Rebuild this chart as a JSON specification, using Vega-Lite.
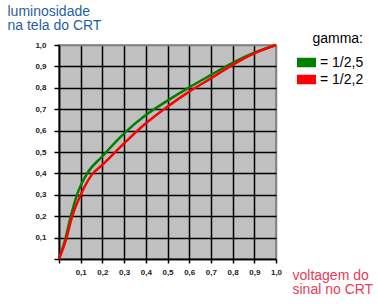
{
  "$schema": "https://vega.github.io/schema/vega-lite/v6.json",
  "width": 217,
  "height": 214,
  "autosize": {"type": "none"},
  "padding": {"left": 59, "top": 45, "right": 102, "bottom": 45},
  "background": "white",
  "config": {
    "view": {"fill": "#c0c0c0", "stroke": "#808080", "strokeWidth": 1.5},
    "font": "Liberation Sans"
  },
  "data": {
    "values": [
      {"gamma": "= 1/2,5", "sinal": 0, "luminosidade": 0},
      {"gamma": "= 1/2,5", "sinal": 0.031, "luminosidade": 0.1},
      {"gamma": "= 1/2,5", "sinal": 0.054, "luminosidade": 0.2},
      {"gamma": "= 1/2,5", "sinal": 0.083, "luminosidade": 0.3},
      {"gamma": "= 1/2,5", "sinal": 0.13, "luminosidade": 0.4},
      {"gamma": "= 1/2,5", "sinal": 0.2, "luminosidade": 0.48},
      {"gamma": "= 1/2,5", "sinal": 0.3, "luminosidade": 0.587},
      {"gamma": "= 1/2,5", "sinal": 0.4, "luminosidade": 0.673},
      {"gamma": "= 1/2,5", "sinal": 0.5, "luminosidade": 0.74},
      {"gamma": "= 1/2,5", "sinal": 0.6, "luminosidade": 0.802},
      {"gamma": "= 1/2,5", "sinal": 0.7, "luminosidade": 0.86},
      {"gamma": "= 1/2,5", "sinal": 0.8, "luminosidade": 0.917},
      {"gamma": "= 1/2,5", "sinal": 0.9, "luminosidade": 0.964},
      {"gamma": "= 1/2,5", "sinal": 1.0, "luminosidade": 1.0},
      {"gamma": "= 1/2,2", "sinal": 0, "luminosidade": 0},
      {"gamma": "= 1/2,2", "sinal": 0.035, "luminosidade": 0.1},
      {"gamma": "= 1/2,2", "sinal": 0.061, "luminosidade": 0.2},
      {"gamma": "= 1/2,2", "sinal": 0.1, "luminosidade": 0.3},
      {"gamma": "= 1/2,2", "sinal": 0.15, "luminosidade": 0.392},
      {"gamma": "= 1/2,2", "sinal": 0.2, "luminosidade": 0.44},
      {"gamma": "= 1/2,2", "sinal": 0.3, "luminosidade": 0.54},
      {"gamma": "= 1/2,2", "sinal": 0.4, "luminosidade": 0.634},
      {"gamma": "= 1/2,2", "sinal": 0.5, "luminosidade": 0.712},
      {"gamma": "= 1/2,2", "sinal": 0.6, "luminosidade": 0.782},
      {"gamma": "= 1/2,2", "sinal": 0.7, "luminosidade": 0.844},
      {"gamma": "= 1/2,2", "sinal": 0.8, "luminosidade": 0.907},
      {"gamma": "= 1/2,2", "sinal": 0.9, "luminosidade": 0.961},
      {"gamma": "= 1/2,2", "sinal": 1.0, "luminosidade": 1.0}
    ]
  },
  "encoding": {
    "x": {
      "field": "sinal",
      "type": "quantitative",
      "scale": {"domain": [0, 1], "nice": false},
      "axis": {
        "values": [0, 0.1, 0.2, 0.3, 0.4, 0.5, 0.6, 0.7, 0.8, 0.9, 1],
        "labelExpr": "datum.value == 0 ? '' : replace(format(datum.value, '.1f'), '.', ',')",
        "grid": true,
        "gridColor": {"condition": {"test": "datum.value == 1", "value": "#808080"}, "value": "#000000"},
        "gridWidth": 1.5,
        "gridOpacity": 1,
        "domainColor": "#000000",
        "domainWidth": 1.5,
        "tickColor": "#000000",
        "tickSize": 4,
        "tickWidth": 1.5,
        "labelFont": "Liberation Sans",
        "labelFontSize": 8,
        "labelFontWeight": "bold",
        "labelColor": "#222222",
        "labelPadding": 5,
        "labelFlush": false,
        "labelDx": -2,
        "title": ["voltagem do", "sinal no CRT"],
        "titleX": 233,
        "titleY": 20,
        "titleAlign": "left",
        "titleBaseline": "alphabetic",
        "titleFont": "Liberation Sans",
        "titleFontSize": 14,
        "titleFontWeight": "normal",
        "titleColor": "#ea3a5a",
        "titleLineHeight": 14
      }
    },
    "y": {
      "field": "luminosidade",
      "type": "quantitative",
      "scale": {"domain": [0, 1], "nice": false},
      "axis": {
        "values": [0, 0.1, 0.2, 0.3, 0.4, 0.5, 0.6, 0.7, 0.8, 0.9, 1],
        "labelExpr": "datum.value == 0 ? '' : replace(format(datum.value, '.1f'), '.', ',')",
        "grid": true,
        "gridColor": {"condition": {"test": "datum.value == 1", "value": "#808080"}, "value": "#000000"},
        "gridWidth": 1.5,
        "gridOpacity": 1,
        "domainColor": "#000000",
        "domainWidth": 1.5,
        "tickColor": "#000000",
        "tickSize": 5,
        "tickWidth": 1.5,
        "labelFont": "Liberation Sans",
        "labelFontSize": 8,
        "labelFontWeight": "bold",
        "labelColor": "#222222",
        "labelPadding": 8,
        "labelFlush": false,
        "title": ["luminosidade", "na tela do CRT"],
        "titleAngle": 0,
        "titleX": -52,
        "titleY": -30,
        "titleAlign": "left",
        "titleBaseline": "alphabetic",
        "titleFont": "Liberation Sans",
        "titleFontSize": 14,
        "titleFontWeight": "normal",
        "titleColor": "#1f5fa0",
        "titleLineHeight": 14
      }
    },
    "color": {
      "field": "gamma",
      "type": "nominal",
      "scale": {"domain": ["= 1/2,5", "= 1/2,2"], "range": ["#008000", "#ff0000"]},
      "legend": {
        "orient": "none",
        "legendX": 238,
        "legendY": -13,
        "title": "gamma:",
        "titleFont": "Liberation Sans",
        "titleFontSize": 14,
        "titleFontWeight": "normal",
        "titleColor": "#000000",
        "titleAnchor": "end",
        "titlePadding": 7,
        "labelFont": "Liberation Sans",
        "labelFontSize": 14,
        "labelColor": "#000000",
        "labelOffset": 4,
        "symbolType": "M-1,-0.5H1V0.5H-1Z",
        "symbolSize": 361,
        "symbolStrokeWidth": 0,
        "rowPadding": 0,
        "padding": 0,
        "encode": {
          "symbols": {
            "update": {
              "fill": {"scale": "color", "field": "value"},
              "stroke": {"value": "transparent"}
            }
          }
        }
      }
    }
  },
  "layer": [
    {
      "transform": [{"filter": "datum.gamma == '= 1/2,5'"}],
      "mark": {"type": "line", "strokeWidth": 2.5, "interpolate": "monotone"}
    },
    {
      "transform": [{"filter": "datum.gamma == '= 1/2,2'"}],
      "mark": {"type": "line", "strokeWidth": 2.5, "interpolate": "monotone"}
    }
  ]
}
